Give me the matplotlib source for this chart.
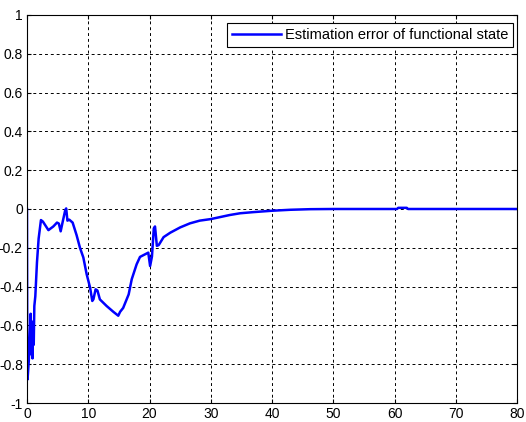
import numpy as np
import matplotlib.pyplot as plt

plt.rcParams['font.family'] = ['Liberation Sans', 'DejaVu Sans']

# time samples and estimation error values
t = [0.0, 0.05, 0.1, 0.3, 0.5, 0.6, 0.7, 0.8, 0.9, 1.0, 1.1, 1.2, 1.36, 1.63,
     1.9, 2.28, 2.6, 3.5, 4.3, 4.9, 5.2, 5.5, 5.8, 6.25, 6.4, 6.6, 6.9, 7.45,
     8.1, 8.65, 9.2, 9.74, 10.3, 10.66, 10.85, 11.2, 11.5, 11.9, 13.0, 14.1,
     14.9, 15.2, 15.7, 16.6, 17.1, 17.9, 18.45, 19.8, 20.1, 20.4, 20.7,
     20.9, 21.2, 21.5, 22.3, 23.4, 25.0, 26.6, 28.2, 30.0, 33.1, 34.8, 37.0,
     40.0, 43.0, 46.2, 50.0, 55.0, 60.4, 60.6, 62.0, 62.2, 70.0, 80.0]
err = [0.0, -0.88, -0.875, -0.78, -0.62, -0.54, -0.75, -0.6, -0.77, -0.58,
       -0.7, -0.5, -0.45, -0.275, -0.153, -0.057, -0.065, -0.109, -0.09,
       -0.07, -0.075, -0.115, -0.07, -0.005, 0.003, -0.06, -0.055, -0.07,
       -0.135, -0.2, -0.25, -0.336, -0.405, -0.474, -0.465, -0.414, -0.42,
       -0.466, -0.5, -0.53, -0.55, -0.53, -0.51, -0.44, -0.362, -0.285,
       -0.247, -0.225, -0.294, -0.245, -0.10, -0.09, -0.19, -0.186,
       -0.145, -0.122, -0.095, -0.074, -0.06, -0.052, -0.031, -0.022, -0.016,
       -0.009, -0.004, -0.001, 0.0, 0.0, 0.0, 0.006, 0.006, 0.0, 0.0, 0.0]

fig = plt.figure(figsize=(5.26, 4.22), dpi=100)
ax = fig.add_axes([0.0513, 0.045, 0.9317, 0.9195])

ax.plot(t, err, color='#0000ff', linewidth=1.8,
        label='Estimation error of functional state')

ax.set_xlim(0, 80)
ax.set_ylim(-1, 1)
ax.set_xticks(np.arange(0, 81, 10))
ax.set_yticks(np.round(np.arange(-1, 1.01, 0.2), 1))
ax.set_yticklabels(['-1', '-0.8', '-0.6', '-0.4', '-0.2', '0',
                    '0.2', '0.4', '0.6', '0.8', '1'])

ax.grid(True, color='black', linestyle=(0, (3, 3)), linewidth=0.7)
ax.tick_params(direction='in', top=True, right=True, length=3,
               labelsize=10, pad=3)
for s in ax.spines.values():
    s.set_linewidth(0.8)

leg = ax.legend(loc='upper right', bbox_to_anchor=(0.9925, 0.9786),
                borderaxespad=0, fontsize=10.5, fancybox=False,
                edgecolor='black', framealpha=1, handlelength=3.3,
                handletextpad=0.3, borderpad=0.35)
leg.get_frame().set_linewidth(0.8)

fig.savefig('out.png', dpi=100)
